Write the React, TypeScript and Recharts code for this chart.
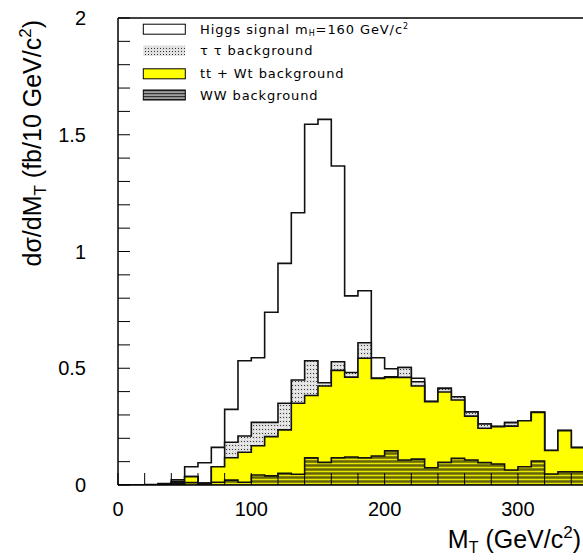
import React from 'react';
import { ComposedChart, Area, XAxis, YAxis, ReferenceLine, Legend } from 'recharts';

// ---- data, 10 GeV bins ----
const binLow = [0, 10, 20, 30, 40, 50, 60, 70, 80, 90, 100, 110, 120, 130, 140, 150, 160, 170, 180, 190, 200, 210, 220, 230, 240, 250, 260, 270, 280, 290, 300, 310, 320, 330, 340];
const wwBkg = [0, 0, 0, 0.002, 0.005, 0.01, 0.005, 0.012, 0.021, 0.012, 0.043, 0.039, 0.05, 0.046, 0.116, 0.097, 0.117, 0.12, 0.117, 0.124, 0.146, 0.107, 0.111, 0.074, 0.097, 0.114, 0.107, 0.096, 0.09, 0.064, 0.078, 0.103, 0.047, 0.057, 0.057];
const ttBkg = [0, 0, 0, 0.001, 0.007, 0.026, 0.003, 0.066, 0.096, 0.128, 0.125, 0.168, 0.186, 0.304, 0.267, 0.327, 0.374, 0.342, 0.426, 0.332, 0.315, 0.354, 0.313, 0.283, 0.301, 0.25, 0.188, 0.147, 0.16, 0.188, 0.197, 0.208, 0.101, 0.176, 0.103];
const tautauBkg = [0, 0, 0, 0, 0.002, 0, 0, 0, 0.066, 0.07, 0.1, 0.061, 0.114, 0.1, 0.149, 0.014, 0.037, 0.02, 0.066, 0.002, 0.002, 0.042, 0.018, 0, 0.016, 0.014, 0.018, 0.018, 0, 0.015, 0, 0, 0, 0, 0];
const higgsSignal = [0, 0, 0.002, 0.003, 0.008, 0.042, 0.087, 0.083, 0.141, 0.322, 0.277, 0.472, 0.599, 0.716, 1.013, 1.128, 0.838, 0.328, 0.223, 0.087, 0.035, 0, 0.015, 0, 0, 0, 0, 0, 0, 0, 0, 0, 0, 0, 0];
const binWidth = 10;

const xTicks = [0, 20, 40, 60, 80, 100, 120, 140, 160, 180, 200, 220, 240, 260, 280, 300, 320, 340];
const xLabels = [0, 100, 200, 300];
const yTicks = [0, 0.1, 0.2, 0.3, 0.4, 0.5, 0.6, 0.7, 0.8, 0.9, 1, 1.1, 1.2, 1.3, 1.4, 1.5, 1.6, 1.7, 1.8, 1.9, 2];
const yLabels = [0, 0.5, 1, 1.5, 2];

// ---- layout ----
const W = 583;
const H = 560;
const PLOT_LEFT = 118;
const PLOT_TOP = 18;
const PLOT_BOTTOM = 485;
const X_MAX = 348.8;
const TICK_LEN = 12;
const FONT = '"Liberation Sans", Arial, Helvetica, sans-serif';
const LFONT = '"DejaVu Sans", Verdana, sans-serif';

// cumulative stack table (ROOT THStack style, each layer drawn from 0)
const rows = binLow.map((x, i) => {
  const ww = wwBkg[i];
  const tt = ww + ttBkg[i];
  const tau = tt + tautauBkg[i];
  const sig = tau + higgsSignal[i];
  return { x, ww, tt, tau, sig };
});
const last = rows[rows.length - 1];
const data = [...rows, { ...last, x: last.x + binWidth }];

const XTick = (props: any) => {
  const { x, payload } = props;
  const v = payload.value;
  const show = xLabels.includes(v);
  return (
    <g>
      <line x1={x} x2={x} y1={PLOT_BOTTOM} y2={PLOT_BOTTOM - TICK_LEN} stroke="#000" strokeWidth={1} />
      {show && (
        <text x={x} y={509} textAnchor="middle" dominantBaseline="central" fontSize={20} fontFamily={FONT} fill="#000">
          {String(v)}
        </text>
      )}
    </g>
  );
};

const YTick = (props: any) => {
  const { y, payload } = props;
  const v = payload.value;
  const show = yLabels.some((l) => Math.abs(l - v) < 1e-6);
  return (
    <g>
      <line x1={PLOT_LEFT} x2={PLOT_LEFT + TICK_LEN} y1={y} y2={y} stroke="#000" strokeWidth={1} />
      {show && (
        <text x={86} y={y} textAnchor="end" dominantBaseline="central" fontSize={20} fontFamily={FONT} fill="#000">
          {String(v)}
        </text>
      )}
    </g>
  );
};

const YTitle = () => (
  <text transform="rotate(-90)" x={-20} y={40.5} textAnchor="end" fontSize={25} fontFamily={FONT} fill="#000">
    dσ/dM
    <tspan fontSize={17} dy={5}>T</tspan>
    <tspan dy={-5}> (fb/10 GeV/c</tspan>
    <tspan fontSize={17} dy={-10}>2</tspan>
    <tspan dy={10}>)</tspan>
  </text>
);

const XTitle = () => (
  <text x={581} y={548} textAnchor="end" fontSize={25} fontFamily={FONT} fill="#000">
    M
    <tspan fontSize={16} dy={5}>T</tspan>
    <tspan dy={-5}> (GeV/c</tspan>
    <tspan fontSize={17} dy={-10}>2</tspan>
    <tspan dy={10}>)</tspan>
  </text>
);

const legendRows = [
  { key: 'sig', label: 'Higgs signal' },
  { key: 'tau', label: 'τ τ background' },
  { key: 'tt', label: 'tt + Wt background' },
  { key: 'ww', label: 'WW background' },
];

const renderLegend = () => {
  const boxX = 5.3;
  const boxW = 42;
  const boxH = 10;
  const textX = 62;
  const centers = [9.2, 30.8, 53.8, 75];
  return (
    <svg width={300} height={90} style={{ display: 'block', overflow: 'visible' }}>
      <defs>
        <pattern id="lgTau" width="3" height="3" patternUnits="userSpaceOnUse">
          <rect width="3" height="3" fill="#e0e0e0" />
          <rect x="1" y="1" width="1" height="1" fill="#333" />
        </pattern>
        <pattern id="lgWW" width="3" height="3" patternUnits="userSpaceOnUse">
          <rect width="3" height="3" fill="#a0a0a0" />
          <rect y="1" width="3" height="1.2" fill="#333" />
        </pattern>
      </defs>
      {legendRows.map((r, i) => {
        const cy = centers[i];
        const fill = r.key === 'sig' ? '#fff' : r.key === 'tau' ? 'url(#lgTau)' : r.key === 'tt' ? '#ffff00' : 'url(#lgWW)';
        const stroke = r.key === 'tau' ? 'none' : '#000';
        return (
          <g key={r.key}>
            <rect x={boxX} y={cy - boxH / 2} width={boxW} height={boxH} fill={fill} stroke={stroke} strokeWidth={1} />
            <text x={textX} y={cy + 4.5} fontSize={13} letterSpacing={0.9} fontFamily={LFONT} fill="#000">
              {r.label}
              {r.key === 'sig' && (
                <>
                  <tspan> m</tspan>
                  <tspan fontSize={8} dy={2}>H</tspan>
                  <tspan dy={-2}>=160 GeV/c</tspan>
                  <tspan fontSize={8} dy={-5}>2</tspan>
                </>
              )}
            </text>
          </g>
        );
      })}
    </svg>
  );
};

export default function App() {
  return (
    <div style={{ position: 'absolute', left: 0, top: 0, width: W, height: H, background: '#fff', overflow: 'hidden' }}>
      <ComposedChart
        width={W}
        height={H}
        data={data}
        margin={{ top: PLOT_TOP, right: 0, bottom: 5, left: 0 }}
      >
        <defs>
          <pattern id="tauPat" width="3" height="4" patternUnits="userSpaceOnUse">
            <rect width="3" height="4" fill="#dedede" />
            <rect x="1" y="1" width="1" height="1" fill="#3a3a3a" />
            <rect x="0" y="3" width="1" height="1" fill="#ffffff" />
          </pattern>
          <pattern id="wwPat" width="4" height="4" patternUnits="userSpaceOnUse">
            <rect width="4" height="4" fill="#84840a" />
            <rect y="3" width="4" height="1" fill="#e6e600" />
            <rect y="1" width="4" height="0.6" fill="#505000" />
          </pattern>
        </defs>
        <XAxis
          type="number"
          dataKey="x"
          domain={[0, X_MAX]}
          allowDataOverflow
          ticks={xTicks}
          interval={0}
          tick={<XTick />}
          tickLine={false}
          tickSize={0}
          height={70}
          axisLine={{ stroke: '#000', strokeWidth: 1.5 }}
          label={<XTitle />}
        />
        <YAxis
          type="number"
          domain={[0, 2]}
          allowDataOverflow
          ticks={yTicks}
          interval={0}
          tick={<YTick />}
          tickLine={false}
          tickSize={0}
          width={PLOT_LEFT}
          axisLine={{ stroke: '#000', strokeWidth: 1.5 }}
          label={<YTitle />}
        />
        <ReferenceLine y={2} stroke="#000" strokeWidth={1.5} />
        <Area type="stepAfter" dataKey="sig" name="Higgs signal" stroke="#111" strokeWidth={1.6} fill="#ffffff" fillOpacity={1} dot={false} activeDot={false} isAnimationActive={false} />
        <Area type="stepAfter" dataKey="tau" name="ττ background" stroke="#111" strokeWidth={1.6} fill="url(#tauPat)" fillOpacity={1} dot={false} activeDot={false} isAnimationActive={false} />
        <Area type="stepAfter" dataKey="tt" name="tt + Wt background" stroke="#111" strokeWidth={1.6} fill="#ffff00" fillOpacity={1} dot={false} activeDot={false} isAnimationActive={false} />
        <Area type="stepAfter" dataKey="ww" name="WW background" stroke="#111" strokeWidth={1.6} fill="url(#wwPat)" fillOpacity={1} dot={false} activeDot={false} isAnimationActive={false} />
        <Legend
          content={renderLegend}
          layout="vertical"
          align="center"
          verticalAlign="middle"
          wrapperStyle={{ top: 20, left: 138, width: 300, height: 90 }}
        />
      </ComposedChart>
    </div>
  );
}
